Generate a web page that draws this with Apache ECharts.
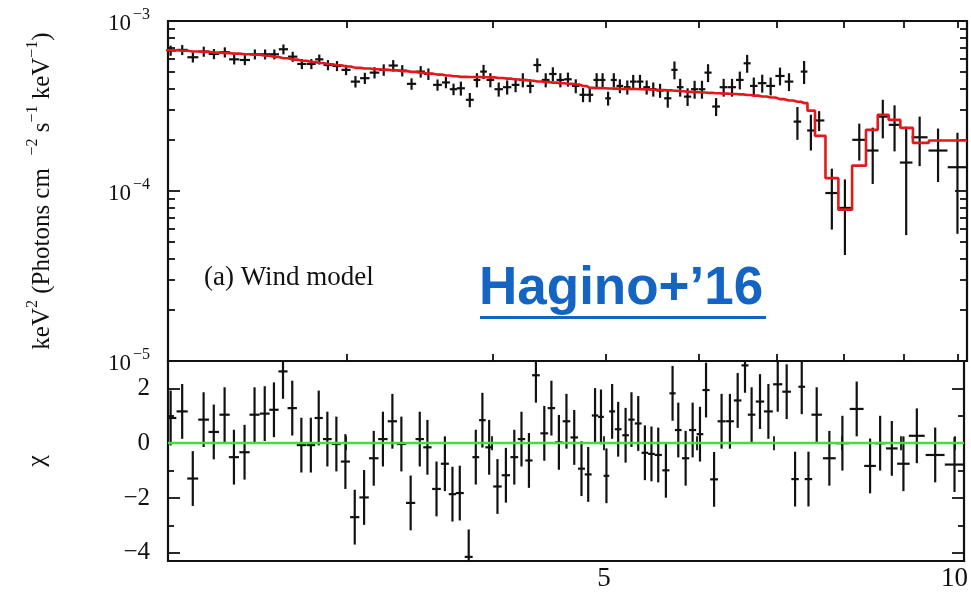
<!DOCTYPE html>
<html><head><meta charset="utf-8">
<script src="https://cdn.jsdelivr.net/npm/echarts@6/dist/echarts.min.js"></script>
<style>html,body{margin:0;padding:0;background:#fff}#c{width:971px;height:592px}</style>
</head><body><div id="c"></div>
<script>
// ---- data ----
const energy = [2.121,2.170,2.216,2.264,2.310,2.360,2.404,2.455,2.504,2.555,2.602,2.649,2.698,2.747,2.799,2.843,2.892,2.944,2.997,3.053,
3.110,3.170,3.228,3.289,3.348,3.410,3.472,3.525,3.589,3.649,3.704,3.758,3.825,3.879,3.930,3.983,4.049,4.117,4.186,4.246,
4.309,4.369,4.442,4.505,4.572,4.641,4.713,4.781,4.845,4.911,4.969,5.023,5.080,5.141,5.217,5.278,5.349,5.420,5.491,5.565,
5.650,5.725,5.790,5.875,5.957,6.044,6.117,6.215,6.308,6.413,6.512,6.607,6.694,6.806,6.920,7.049,7.175,7.295,7.392,7.491,
7.614,7.807,8.011,8.241,8.462,8.632,8.834,9.039,9.282,9.625,10.00];
const halfWidth = [0.024,0.024,0.024,0.024,0.024,0.024,0.024,0.025,0.025,0.025,0.024,0.024,0.025,0.025,0.024,0.023,0.025,0.026,0.027,0.028,
0.029,0.030,0.030,0.030,0.030,0.031,0.029,0.029,0.031,0.029,0.027,0.030,0.030,0.026,0.026,0.030,0.034,0.034,0.032,0.031,
0.031,0.033,0.034,0.033,0.034,0.035,0.035,0.033,0.033,0.031,0.028,0.028,0.030,0.034,0.034,0.033,0.036,0.036,0.036,0.040,
0.040,0.035,0.038,0.042,0.042,0.040,0.043,0.048,0.050,0.051,0.049,0.046,0.050,0.057,0.061,0.064,0.062,0.054,0.049,0.055,
0.079,0.099,0.108,0.113,0.098,0.093,0.101,0.112,0.146,0.180,0.19];
const flux = [6.70e-4,6.76e-4,6.12e-4,6.61e-4,6.40e-4,6.55e-4,5.95e-4,5.90e-4,6.37e-4,6.37e-4,6.37e-4,6.82e-4,6.17e-4,5.59e-4,5.59e-4,5.95e-4,5.51e-4,5.44e-4,5.16e-4,4.40e-4,
4.61e-4,4.97e-4,5.16e-4,5.47e-4,5.11e-4,4.27e-4,5.04e-4,4.88e-4,4.21e-4,4.35e-4,3.97e-4,4.02e-4,3.44e-4,4.50e-4,5.04e-4,4.50e-4,3.97e-4,4.08e-4,4.21e-4,4.50e-4,
4.15e-4,5.51e-4,4.50e-4,4.88e-4,4.50e-4,4.54e-4,4.15e-4,3.68e-4,3.68e-4,4.50e-4,4.50e-4,3.51e-4,4.50e-4,4.15e-4,4.08e-4,4.40e-4,4.40e-4,4.08e-4,3.97e-4,3.90e-4,
3.51e-4,5.16e-4,4.08e-4,3.59e-4,3.97e-4,3.97e-4,4.97e-4,3.14e-4,4.08e-4,4.08e-4,4.50e-4,5.64e-4,4.15e-4,4.31e-4,4.15e-4,4.75e-4,4.40e-4,2.56e-4,5.04e-4,2.27e-4,
2.60e-4,9.73e-5,7.95e-5,2.00e-4,1.73e-4,2.74e-4,2.45e-4,1.47e-4,2.07e-4,1.73e-4,1.38e-4];
const fluxErr = [4.6e-5,4.6e-5,4.2e-5,4.5e-5,4.4e-5,4.5e-5,4.0e-5,4.0e-5,4.3e-5,4.3e-5,4.3e-5,4.6e-5,4.2e-5,3.8e-5,3.8e-5,4.0e-5,3.8e-5,3.7e-5,3.6e-5,3.4e-5,
3.5e-5,3.8e-5,4.0e-5,4.2e-5,3.9e-5,3.3e-5,3.9e-5,3.8e-5,3.2e-5,3.3e-5,3.1e-5,3.8e-5,3.3e-5,4.3e-5,4.8e-5,4.3e-5,3.8e-5,3.9e-5,4.0e-5,4.3e-5,
3.9e-5,5.2e-5,4.3e-5,4.6e-5,4.3e-5,4.3e-5,3.9e-5,3.5e-5,3.5e-5,4.3e-5,4.3e-5,3.3e-5,4.3e-5,3.9e-5,3.9e-5,4.2e-5,4.2e-5,3.9e-5,3.8e-5,3.7e-5,
4.2e-5,6.2e-5,4.9e-5,4.3e-5,4.8e-5,4.8e-5,6.0e-5,3.8e-5,4.9e-5,4.9e-5,5.4e-5,6.8e-5,5.0e-5,5.2e-5,5.0e-5,5.7e-5,5.3e-5,5.6e-5,7.8e-5,5.4e-5,
3.5e-5,3.8e-5,3.75e-5,4.9e-5,6.3e-5,7.0e-5,7.4e-5,9.2e-5,6.7e-5,6.0e-5,8.2e-5];
const model = [6.73e-4,6.68e-4,6.62e-4,6.58e-4,6.52e-4,6.47e-4,6.43e-4,6.37e-4,6.33e-4,6.24e-4,6.14e-4,6.04e-4,5.93e-4,5.84e-4,5.74e-4,5.66e-4,5.57e-4,5.49e-4,5.40e-4,5.30e-4,
5.25e-4,5.20e-4,5.16e-4,5.12e-4,5.07e-4,5.02e-4,4.95e-4,4.90e-4,4.84e-4,4.78e-4,4.73e-4,4.69e-4,4.68e-4,4.68e-4,4.67e-4,4.66e-4,4.62e-4,4.58e-4,4.53e-4,4.49e-4,
4.45e-4,4.41e-4,4.37e-4,4.34e-4,4.30e-4,4.27e-4,4.23e-4,4.15e-4,4.04e-4,4.03e-4,4.02e-4,4.01e-4,4.00e-4,3.99e-4,3.99e-4,3.98e-4,3.97e-4,3.96e-4,3.94e-4,3.92e-4,
3.91e-4,3.89e-4,3.86e-4,3.83e-4,3.81e-4,3.80e-4,3.78e-4,3.76e-4,3.74e-4,3.72e-4,3.70e-4,3.67e-4,3.64e-4,3.60e-4,3.55e-4,3.47e-4,3.41e-4,3.35e-4,3.29e-4,2.97e-4,
2.11e-4,1.19e-4,7.77e-5,1.41e-4,2.29e-4,2.81e-4,2.62e-4,2.35e-4,1.92e-4,1.98e-4,1.98e-4];
const chi = [0.92,1.16,-1.29,0.86,0.41,1.04,-0.51,-0.33,1.04,1.08,1.22,2.62,1.28,-0.07,-0.07,0.92,0.15,-0.03,-0.67,-2.70,
-1.98,-0.55,0.15,0.80,-0.03,-2.18,0.15,-0.15,-1.67,-0.75,-1.86,-1.82,-4.15,-0.51,0.84,-0.15,-1.58,-1.17,-0.51,0.15,
-0.63,2.48,0.36,1.28,0.03,0.80,0.21,-0.93,-1.14,1.01,0.96,-1.19,1.16,0.51,0.29,0.86,0.72,-0.35,-0.39,-0.43,
-0.99,1.82,0.48,-0.55,0.48,0.33,1.94,-1.32,0.80,0.80,1.56,2.84,1.04,1.52,1.16,2.15,1.88,-1.31,2.06,-1.31,
1.04,-0.55,0.00,1.25,-0.83,0.00,-0.19,-0.75,0.27,-0.43,-0.78];
const chiErr = 1;

// ---- axes / ticks ----
const xRange = [2.11, 10.19];
const xTicks = [3,4,5,6,7,8,9,10];
const xLabels = [5,10];
const fluxRange = [1e-5, 1e-3];
const fluxMajor = [1e-5,1e-4,1e-3];
const fluxMinor = [2e-5,3e-5,4e-5,5e-5,6e-5,7e-5,8e-5,9e-5,2e-4,3e-4,4e-4,5e-4,6e-4,7e-4,8e-4,9e-4];
const chiRange = [-4.3, 3];
const chiMajor = [-4,-2,0,2];
const chiMinor = [-3,-1,1];

const SERIF = '"Liberation Serif","DejaVu Serif",serif';
const INK = '#111';
const BLUE = '#1464c4';

const chart = echarts.init(document.getElementById('c'), null, {renderer:'canvas'});

function errRender(params, api){
  const x = api.value(0), hw = api.value(1), y = api.value(2), e = api.value(3);
  const a = api.coord([x-hw, y]), b = api.coord([x+hw, y]);
  const c = api.coord([x, y+e]), d = api.coord([x, y-e]);
  const st = {stroke: INK, lineWidth: 2.2};
  return {type:'group', children:[
    {type:'line', shape:{x1:a[0],y1:a[1],x2:b[0],y2:b[1]}, style:st},
    {type:'line', shape:{x1:c[0],y1:c[1],x2:d[0],y2:d[1]}, style:st}
  ]};
}

function xAx(grid, pos){
  return {type:'log', logBase:10, gridIndex:grid, position:pos, min:xRange[0], max:xRange[1],
    axisLine:{show:false}, splitLine:{show:false},
    axisTick:{show:true, inside:true, length:7, customValues:xTicks, lineStyle:{color:INK,width:1.8}},
    axisLabel:{show: (grid===1 && pos==='bottom'), customValues:xLabels, fontFamily:SERIF, fontSize:27, color:INK, margin:4}};
}
function yAx(grid, type, range, pos, ticks, len){
  const o = {type:type, gridIndex:grid, position:pos, min:range[0], max:range[1],
    axisLine:{show:false}, splitLine:{show:false},
    axisTick:{show:true, inside:true, length:len, customValues:ticks, lineStyle:{color:INK,width:1.8}},
    axisLabel:{show:false}};
  if (type==='log') o.logBase = 10;
  return o;
}

const fluxLabel = {show:true, customValues:fluxMajor, margin:18, fontFamily:SERIF, color:INK,
  formatter: v => '{b|10}{s|−' + Math.round(-Math.log10(v)) + '}',
  rich:{b:{fontFamily:SERIF,fontSize:23,color:INK,lineHeight:28,verticalAlign:'bottom'},
        s:{fontFamily:SERIF,fontSize:16,color:INK,lineHeight:28,verticalAlign:'top',padding:[0,0,0,2]}}};
const chiLabel = {show:true, customValues:chiMajor, margin:18, fontFamily:SERIF, fontSize:25, color:INK,
  formatter: v => v<0 ? '−'+(-v) : String(v)};

const yTitle = '{n|keV}{s|2}{n| (Photons cm  }{s|−2}{n| s}{s|−1}{n| keV}{s|−1}{n|)}';

const option = {
  animation:false,
  backgroundColor:'#fff',
  grid:[
    {left:168, top:21, width:799, height:340, show:true, borderColor:INK, borderWidth:2.2, backgroundColor:'transparent'},
    {left:168, top:361, width:799, height:203, show:true, borderColor:INK, borderWidth:2.2, backgroundColor:'transparent'}
  ],
  xAxis:[ xAx(0,'bottom'), xAx(0,'top'), xAx(1,'bottom'), xAx(1,'top') ],
  yAxis:[
    Object.assign(yAx(0,'log',fluxRange,'left',[1e-4],12), {axisLabel:fluxLabel,
      name:yTitle, nameLocation:'middle', nameRotate:90, nameGap:113,
      nameTextStyle:{fontFamily:SERIF, color:INK, rich:{n:{fontFamily:SERIF,fontSize:25,color:INK,lineHeight:30,verticalAlign:'bottom'}, s:{fontFamily:SERIF,fontSize:16,color:INK,lineHeight:30,verticalAlign:'top'}}}}),
    yAx(0,'log',fluxRange,'left',fluxMinor,7),
    yAx(0,'log',fluxRange,'right',[1e-4],12),
    yAx(0,'log',fluxRange,'right',fluxMinor,7),
    Object.assign(yAx(1,'value',chiRange,'left',chiMajor,12), {axisLabel:chiLabel,
      name:'χ', nameLocation:'middle', nameRotate:90, nameGap:118,
      nameTextStyle:{fontFamily:SERIF, fontSize:26, color:INK}}),
    yAx(1,'value',chiRange,'left',chiMinor,6),
    yAx(1,'value',chiRange,'right',chiMajor,12),
    yAx(1,'value',chiRange,'right',chiMinor,6)
  ],
  series:[
    {type:'custom', name:'spectrum', xAxisIndex:0, yAxisIndex:0, clip:true, renderItem:errRender,
      encode:{x:0, y:2}, data: energy.map((e,i)=>[e, halfWidth[i], flux[i], fluxErr[i]]), z:2},
    {type:'line', name:'model', xAxisIndex:0, yAxisIndex:0, step:'middle', showSymbol:false, clip:true,
      lineStyle:{color:'#e3171c', width:2.6}, z:3,
      data: [[energy[0]-halfWidth[0], model[0]]].concat(energy.map((e,i)=>[e, model[i]]), [[energy[energy.length-1]+halfWidth[halfWidth.length-1], model[model.length-1]]])},
    {type:'custom', name:'residual', xAxisIndex:2, yAxisIndex:4, clip:true, renderItem:errRender,
      encode:{x:0, y:2}, data: energy.map((e,i)=>[e, halfWidth[i], chi[i], chiErr]), z:2,
      markLine:{silent:true, symbol:'none', label:{show:false}, animation:false,
        lineStyle:{color:'#44dd3c', width:2.4, type:'solid'}, data:[{yAxis:0}]}}
  ],
  graphic:[
    {type:'text', left:204, top:264, style:{text:'(a) Wind model', font:'27px '+SERIF, fill:INK}},
    {type:'text', left:479, top:263, style:{text:'Hagino+’16', font:'bold 53px "Liberation Sans", Arial, sans-serif', fill:BLUE}},
    {type:'rect', left:480, top:316, shape:{width:286, height:3}, style:{fill:BLUE}}
  ]
};
chart.setOption(option);
</script>
</body></html>
